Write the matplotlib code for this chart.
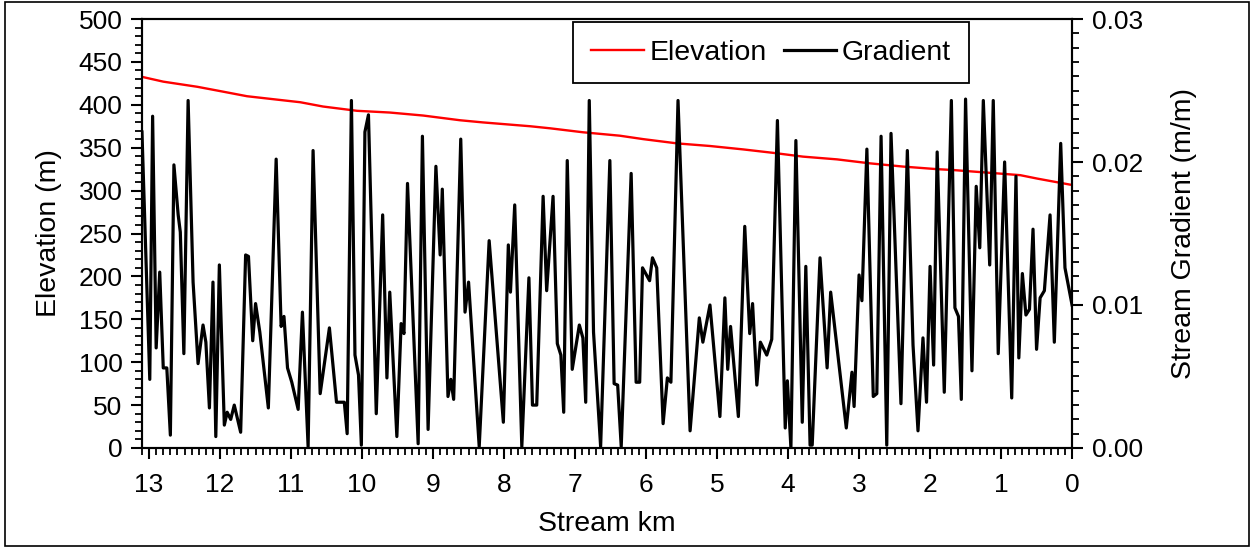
import numpy as np
import matplotlib.pyplot as plt
from matplotlib.patches import Rectangle
from matplotlib.ticker import MultipleLocator, FormatStrFormatter

plt.rcParams['font.family'] = ['Liberation Sans', 'DejaVu Sans']
plt.rcParams['font.size'] = 19

# elevation profile (km upstream, m)
elev_km = [13.10, 12.80, 12.32, 12.00, 11.62, 11.30, 10.87, 10.55, 10.07, 9.61,
           9.14, 8.62, 8.30, 7.63, 7.35, 6.89, 6.37, 6.04, 5.56, 5.10,
           4.63, 4.21, 3.79, 3.31, 2.85, 2.38, 1.90, 1.68, 1.20, 0.73,
           0.49, 0.03]
elev_m = [432.6, 427, 421, 416, 410, 407, 403, 398, 393, 391,
          387.5, 382, 379.5, 375, 372.6, 368, 364, 360, 355, 352,
          348, 344, 339.6, 336.4, 331.8, 328, 325, 324, 321, 318,
          314, 307]

# stream gradient (km, per mille)
grad_km = [13.10, 12.99, 12.95, 12.90, 12.85, 12.80, 12.75, 12.70, 12.65, 12.59,
           12.56, 12.51, 12.45, 12.38, 12.31, 12.24, 12.20, 12.15, 12.10, 12.06,
           12.01, 11.94, 11.90, 11.85, 11.80, 11.71, 11.64, 11.60, 11.54, 11.50,
           11.44, 11.32, 11.21, 11.14, 11.10, 11.05, 10.99, 10.90, 10.84, 10.76,
           10.69, 10.59, 10.46, 10.36, 10.25, 10.21, 10.15, 10.10, 10.05, 10.01,
           9.96, 9.91, 9.80, 9.71, 9.65, 9.61, 9.51, 9.45, 9.41, 9.36,
           9.21, 9.15, 9.07, 8.96, 8.90, 8.87, 8.79, 8.75, 8.71, 8.61,
           8.55, 8.50, 8.35, 8.21, 8.01, 7.94, 7.91, 7.85, 7.75, 7.65,
           7.60, 7.54, 7.45, 7.40, 7.31, 7.25, 7.20, 7.16, 7.11, 7.04,
           6.94, 6.89, 6.85, 6.80, 6.74, 6.64, 6.51, 6.45, 6.40, 6.35,
           6.21, 6.14, 6.09, 6.05, 5.95, 5.91, 5.85, 5.76, 5.70, 5.65,
           5.55, 5.38, 5.25, 5.20, 5.10, 4.96, 4.89, 4.85, 4.81, 4.70,
           4.61, 4.54, 4.50, 4.44, 4.39, 4.30, 4.23, 4.15, 4.04, 4.01,
           3.96, 3.89, 3.80, 3.75, 3.69, 3.66, 3.55, 3.45, 3.40, 3.18,
           3.10, 3.07, 3.00, 2.96, 2.89, 2.80, 2.75, 2.69, 2.61, 2.55,
           2.41, 2.32, 2.24, 2.17, 2.10, 2.05, 2.00, 1.95, 1.90, 1.80,
           1.70, 1.65, 1.60, 1.56, 1.50, 1.41, 1.35, 1.30, 1.25, 1.16,
           1.11, 1.04, 0.95, 0.85, 0.79, 0.75, 0.70, 0.65, 0.60, 0.55,
           0.50, 0.45, 0.39, 0.31, 0.25, 0.16, 0.10, 0.00]
grad_pm = [22.1, 4.8, 23.2, 7.0, 12.3, 5.6, 5.6, 0.9, 19.8, 16.3,
           15.1, 6.6, 24.3, 11.6, 5.9, 8.6, 7.4, 2.8, 11.6, 0.8,
           12.8, 1.6, 2.5, 2.0, 3.0, 1.1, 13.5, 13.4, 7.5, 10.1,
           8.1, 2.8, 20.2, 8.5, 9.2, 5.6, 4.6, 2.7, 9.5, 0.1,
           20.8, 3.8, 8.4, 3.2, 3.2, 1.0, 24.3, 6.5, 5.1, 0.2,
           22.1, 23.3, 2.4, 16.3, 4.9, 10.9, 0.8, 8.7, 8.0, 18.5,
           0.3, 21.8, 1.3, 19.7, 13.5, 18.1, 3.6, 4.8, 3.4, 21.6,
           9.5, 11.6, 0.1, 14.5, 1.8, 14.2, 10.9, 17.0, 0.1, 11.9,
           3.0, 3.0, 17.6, 11.0, 17.6, 7.3, 6.5, 2.5, 20.1, 5.5,
           8.6, 7.7, 3.2, 24.3, 8.1, 0.1, 20.1, 4.5, 4.4, 0.1,
           19.2, 4.6, 4.6, 12.6, 11.7, 13.3, 12.6, 1.7, 4.9, 4.6,
           24.3, 1.2, 9.1, 7.4, 10.0, 2.2, 10.5, 5.5, 8.5, 2.2,
           15.5, 8.0, 10.1, 4.4, 7.4, 6.5, 7.6, 22.9, 1.4, 4.7,
           0.0, 21.5, 1.8, 12.7, 0.2, 0.2, 13.3, 5.6, 10.9, 1.4,
           5.3, 2.9, 12.1, 10.3, 20.9, 3.6, 3.8, 21.8, 0.2, 22.0,
           3.1, 20.8, 7.2, 1.2, 7.7, 3.2, 12.7, 5.8, 20.7, 3.9,
           24.3, 9.8, 9.2, 3.4, 24.4, 5.4, 18.3, 14.0, 24.3, 12.8,
           24.3, 6.6, 20.0, 3.5, 19.0, 6.3, 12.2, 9.3, 9.7, 15.3,
           6.9, 10.5, 11.0, 16.3, 7.4, 21.3, 12.6, 10.0]
gradient = np.array(grad_pm) / 1000.0

fig = plt.figure(figsize=(12.53, 5.48), dpi=100)
ax1 = fig.add_axes([0.1133, 0.1825, 0.7423, 0.7828])
ax2 = ax1.twinx()

l1, = ax1.plot(elev_km, elev_m, color='#ff0000', lw=1.7, label='Elevation')
l2, = ax2.plot(grad_km, gradient, color='black', lw=2.3, label='Gradient',
               solid_joinstyle='round')

ax1.set_xlim(13.1, 0)
ax1.set_ylim(0, 500)
ax2.set_ylim(0, 0.03)

ax1.xaxis.set_major_locator(MultipleLocator(1))
ax1.xaxis.set_minor_locator(MultipleLocator(0.1))
ax1.yaxis.set_major_locator(MultipleLocator(50))
ax1.yaxis.set_minor_locator(MultipleLocator(10))
ax2.yaxis.set_major_locator(MultipleLocator(0.01))
ax2.yaxis.set_minor_locator(MultipleLocator(0.001))
ax2.yaxis.set_major_formatter(FormatStrFormatter('%.2f'))

for ax in (ax1, ax2):
    ax.tick_params(which='major', direction='out', length=8, width=1.5,
                   pad=6, labelsize=19)
    ax.tick_params(which='minor', direction='out', length=5, width=1.3)
    for s in ax.spines.values():
        s.set_linewidth(1.5)
ax1.tick_params(axis='x', which='major', pad=10)

ax1.set_xlabel('Stream km', fontsize=20.5, labelpad=10)
ax1.set_ylabel('Elevation (m)', fontsize=20.5, labelpad=12)
ax2.set_ylabel('Stream Gradient (m/m)', fontsize=20.5, labelpad=20)

leg = ax2.legend(handles=[l1, l2], ncol=2, loc='upper right',
                 bbox_to_anchor=(0.889, 0.993), borderaxespad=0,
                 fancybox=False, edgecolor='black', framealpha=1,
                 handlelength=1.85, handletextpad=0.2, columnspacing=0.6,
                 borderpad=0.62, fontsize=20.5)
leg.get_frame().set_linewidth(1.3)

fig.patches.append(Rectangle((0.004, 0.004), 0.993, 0.992,
                             transform=fig.transFigure, fill=False,
                             edgecolor='black', lw=1.2))

fig.savefig('out.png', dpi=100)
